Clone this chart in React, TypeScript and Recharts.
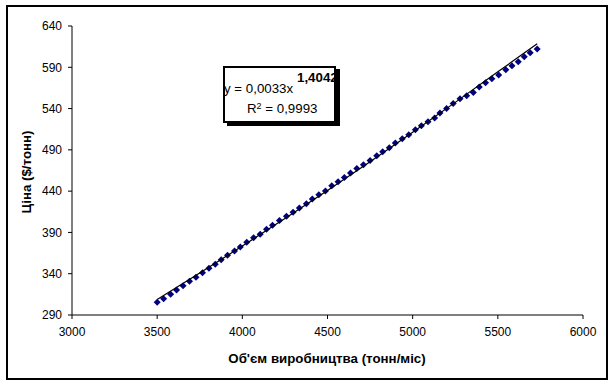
import React from 'react';
import { ScatterChart, Scatter, XAxis, YAxis } from 'recharts';

const xValues = [
  3500, 3538, 3579, 3614, 3652, 3690, 3728, 3766, 3804, 3841,
  3876, 3913, 3954, 3988, 4026, 4066, 4105, 4142, 4177, 4218,
  4259, 4298, 4335, 4376, 4411, 4449, 4488, 4525, 4562, 4599,
  4635, 4672, 4711, 4750, 4789, 4824, 4863, 4898, 4939, 4977,
  5016, 5051, 5090, 5129, 5160, 5199, 5238, 5278, 5317, 5356,
  5391, 5428, 5465, 5505, 5547, 5583, 5620, 5655, 5690, 5731,
];
const priceValues = [
  305.4, 309.8, 315.1, 320.3, 325.5, 330.9, 335.7, 341.3, 346.6, 351.5,
  357.0, 362.4, 367.6, 372.4, 378.0, 383.7, 387.8, 393.9, 398.8, 404.3,
  409.7, 414.5, 419.7, 424.6, 430.6, 435.5, 440.3, 446.4, 451.3, 456.5,
  462.0, 467.4, 471.9, 477.1, 482.8, 487.6, 492.5, 498.2, 503.4, 508.2,
  514.3, 519.1, 524.0, 528.5, 534.5, 540.0, 546.0, 551.9, 555.5, 559.5,
  566.0, 571.3, 576.1, 580.6, 587.0, 591.9, 596.7, 602.8, 607.6, 612.1,
];
const trendX = [3500, 3750, 4000, 4250, 4500, 4750, 5000, 5250, 5500, 5731];
const trendY = [308.8, 340.8, 373.5, 406.9, 440.9, 475.7, 511.3, 547.5, 584.5, 618.5];
const xTicks = [3000, 3500, 4000, 4500, 5000, 5500, 6000];
const yTicks = [290, 340, 390, 440, 490, 540, 590, 640];

const xTitle = "Об'єм виробництва (тонн/міс)";
const yTitle = 'Ціна ($/тонн)';
const eqMain = 'y = 0,0033x';
const eqPow = '1,4042';
const r2Value = ' = 0,9993';

const points = xValues.map((x, i) => ({ x, y: priceValues[i] }));
const trend = trendX.map((x, i) => ({ x, y: trendY[i] }));

const FONT = 'Arial, "Liberation Sans", sans-serif';

const Diamond = (props: any) => {
  const { cx, cy } = props;
  if (cx == null || cy == null) return <g />;
  const h = 3.5;
  return (
    <polygon
      points={`${cx},${cy - h} ${cx + h},${cy} ${cx},${cy + h} ${cx - h},${cy}`}
      fill="#000080"
      stroke="none"
    />
  );
};

const Empty = () => <g />;

export default function App() {
  const tickStyle = { fill: '#000', fontSize: 12, fontFamily: FONT };
  return (
    <div style={{ position: 'absolute', left: 0, top: 0, width: 614, height: 385, background: '#fff' }}>
      <div
        style={{
          position: 'absolute', left: 6, top: 5, width: 602, height: 375,
          boxSizing: 'border-box', border: '2px solid #000',
        }}
      />
      <div style={{ position: 'absolute', left: 0, top: 0 }}>
        <ScatterChart width={614} height={385} margin={{ top: 26, right: 31, bottom: 30, left: 32 }}>
          <XAxis
            type="number"
            dataKey="x"
            domain={[3000, 6000]}
            ticks={xTicks}
            allowDataOverflow
            height={40}
            tickSize={4}
            tickMargin={8}
            tick={tickStyle}
            axisLine={{ stroke: '#000', strokeWidth: 1 }}
            tickLine={{ stroke: '#000' }}
          />
          <XAxis
            xAxisId="top"
            orientation="top"
            type="number"
            dataKey="x"
            domain={[3000, 6000]}
            height={0}
            tick={false}
            tickLine={false}
            axisLine={{ stroke: '#808080' }}
          />
          <YAxis
            type="number"
            dataKey="y"
            domain={[290, 640]}
            ticks={yTicks}
            allowDataOverflow
            width={40}
            tickSize={4}
            tickMargin={6}
            tick={tickStyle}
            axisLine={{ stroke: '#000', strokeWidth: 1 }}
            tickLine={{ stroke: '#000' }}
          />
          <YAxis
            yAxisId="right"
            orientation="right"
            type="number"
            dataKey="y"
            domain={[290, 640]}
            width={0}
            tick={false}
            tickLine={false}
            axisLine={{ stroke: '#808080' }}
          />
          <Scatter data={points} shape={Diamond} isAnimationActive={false} />
          <Scatter
            data={trend}
            shape={Empty}
            line={{ stroke: '#000', strokeWidth: 1.2 }}
            lineType="joint"
            isAnimationActive={false}
          />
        </ScatterChart>
      </div>
      <div
        style={{
          position: 'absolute', left: 327, top: 358, transform: 'translate(-50%, -50%)',
          fontFamily: FONT, fontWeight: 'bold', fontSize: 13.3, whiteSpace: 'nowrap', color: '#000',
        }}
      >
        {xTitle}
      </div>
      <div
        style={{
          position: 'absolute', left: 26, top: 172, transform: 'translate(-50%, -50%) rotate(-90deg)',
          fontFamily: FONT, fontWeight: 'bold', fontSize: 13.3, whiteSpace: 'nowrap', color: '#000',
        }}
      >
        {yTitle}
      </div>
      <div
        style={{
          position: 'absolute', left: 227, top: 69, width: 113, height: 57, background: '#000',
        }}
      />
      <div
        style={{
          position: 'absolute', left: 223, top: 66, width: 113, height: 57, boxSizing: 'border-box',
          border: '2px solid #000', background: '#fff', fontFamily: FONT, fontSize: 13.3, color: '#000',
        }}
      >
        <div style={{ position: 'absolute', left: -1, top: 13, whiteSpace: 'nowrap', lineHeight: '16px' }}>
          {eqMain}
        </div>
        <div style={{ position: 'absolute', left: 72, top: 2, whiteSpace: 'nowrap', fontWeight: 'bold', lineHeight: '16px' }}>
          {eqPow}
        </div>
        <div style={{ position: 'absolute', left: 22, top: 33, whiteSpace: 'nowrap', lineHeight: '16px' }}>
          R<sup style={{ fontSize: 9, verticalAlign: 'top', position: 'relative', top: -3 }}>2</sup>{r2Value}
        </div>
      </div>
    </div>
  );
}
